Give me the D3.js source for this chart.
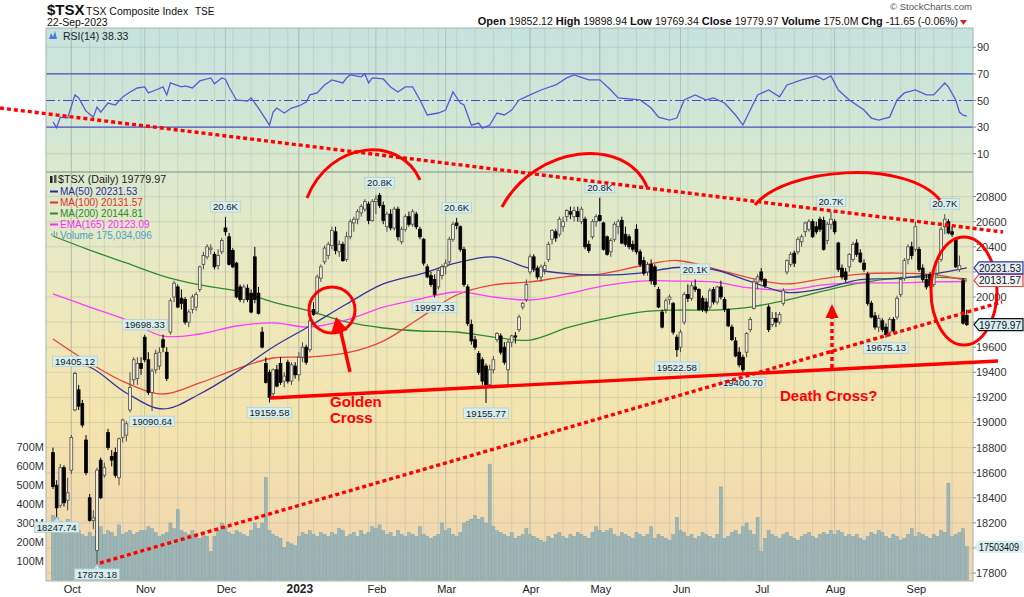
<!DOCTYPE html>
<html><head><meta charset="utf-8">
<script src="https://cdn.jsdelivr.net/npm/d3@7"></script>
<style>
body{margin:0;background:#fff}
svg{display:block}
text{font-family:Arial,"Liberation Sans",sans-serif}
</style></head>
<body><svg id="c" width="1024" height="597"></svg>
<script>
// ---------------- DATA ----------------
const holidays = ["2022-10-10","2022-12-26","2022-12-27","2023-01-02","2023-02-20","2023-04-07","2023-05-22","2023-07-03","2023-08-07","2023-09-04"];
// daily [open, high, low, close]
const sep22 = [[18760,18800,18470,18490],[18500,18540,18247.74,18320],[18340,18670,18320,18640],[18640,18660,18330,18360],[18380,18560,18300,18440]];
const oct22 = [[18620,18900,18590,18880],[19100,19405.12,19090,19390],[19260,19300,19100,19130],[19150,19180,18960,18980],[18860,18900,18580,18600],[18400,18430,18210,18220],[18220,18300,18150,18240],[17980,18640,17873.18,18620],[18700,18720,18390,18400],[18580,18680,18560,18640],[18920,18950,18780,18800],[18730,18780,18650,18700],[18760,18800,18560,18580],[18560,18880,18500,18870],[18880,19030,18840,19020],[18900,19010,18850,18990],[19100,19400,19080,19280],[19340,19520,19300,19500],[19350,19520,19300,19470],[19470,19520,19380,19430]];
const nov22 = [[19680,19698.33,19480,19500],[19500,19560,19220,19240],[19240,19430,19090.64,19410],[19420,19580,19390,19550],[19450,19600,19420,19560],[19660,19700,19560,19600],[19560,19600,19330,19350],[19720,19990,19700,19970],[20000,20130,19960,20110],[20080,20100,19910,19920],[19990,20060,19900,19950],[19980,20000,19780,19800],[19800,19900,19760,19880],[19900,20020,19870,20000],[19920,20040,19890,20020],[20060,20250,20040,20240],[20260,20360,20220,20330],[20320,20420,20300,20400],[20380,20420,20340,20390],[20340,20360,20220,20240],[20250,20380,20220,20330],[20360,20470,20340,20450]];
const dec22 = [[20550,20637,20490,20520],[20480,20510,20250,20260],[20370,20390,20230,20240],[20270,20280,19990,20000],[20080,20100,19960,19980],[19980,20100,19950,20080],[20070,20100,19960,19980],[20030,20060,19870,19880],[20320,20400,19950,19980],[20030,20080,19860,19870],[19720,19760,19590,19600],[19470,19520,19310,19320],[19400,19420,19159.58,19200],[19230,19430,19200,19420],[19420,19460,19280,19290],[19470,19520,19300,19320],[19330,19400,19280,19370],[19480,19500,19310,19330],[19330,19480,19300,19460],[19450,19480,19350,19380]];
const jan23 = [[19380,19560,19330,19520],[19520,19640,19480,19600],[19600,19620,19460,19480],[19580,19830,19560,19810],[19900,19960,19850,19860],[19880,20180,19860,20160],[20150,20260,20120,20240],[20280,20410,20260,20390],[20330,20440,20300,20420],[20410,20560,20380,20530],[20520,20560,20340,20370],[20360,20450,20320,20420],[20420,20440,20280,20290],[20300,20520,20280,20480],[20480,20620,20460,20600],[20590,20640,20520,20620],[20620,20700,20580,20680],[20670,20740,20640,20720],[20700,20780,20680,20760],[20740,20760,20580,20610],[20610,20780,20600,20760]];
const feb23 = [[20760,20810,20660,20780],[20810,20829,20710,20730],[20730,20760,20580,20610],[20560,20680,20520,20660],[20660,20700,20530,20550],[20550,20720,20530,20700],[20700,20720,20450,20480],[20440,20560,20420,20540],[20540,20660,20520,20640],[20640,20680,20560,20580],[20580,20700,20560,20680],[20660,20680,20540,20560],[20540,20560,20460,20480],[20460,20470,20250,20270],[20240,20260,20150,20160],[20170,20200,20080,20100],[20140,20180,19997.33,20020],[20080,20230,20060,20210],[20170,20260,20140,20240]];
const mar23 = [[20240,20300,20180,20270],[20280,20480,20250,20460],[20460,20600,20440,20580],[20590,20630,20540,20570],[20560,20570,20360,20380],[20380,20400,20080,20100],[20080,20100,19770,19790],[19780,19820,19620,19650],[19660,19690,19580,19600],[19550,19570,19380,19400],[19500,19520,19300,19330],[19450,19470,19155.77,19300],[19300,19460,19280,19420],[19420,19530,19390,19500],[19660,19720,19640,19710],[19690,19710,19540,19560],[19600,19640,19460,19480],[19420,19660,19300,19640],[19640,19700,19600,19690],[19690,19720,19630,19680],[19740,19860,19720,19840],[19920,19960,19900,19950],[19980,20140,19960,20100]];
const apr23 = [[20200,20340,20180,20320],[20320,20340,20200,20230],[20230,20250,20140,20160],[20160,20260,20120,20240],[20220,20280,20180,20250],[20300,20440,20280,20420],[20460,20540,20420,20530],[20520,20540,20440,20470],[20500,20640,20480,20620],[20560,20640,20520,20600],[20640,20700,20600,20690],[20680,20720,20620,20660],[20640,20720,20600,20690],[20680,20720,20600,20640],[20600,20720,20580,20700],[20620,20640,20380,20400],[20420,20450,20350,20370],[20480,20620,20460,20600],[20600,20660,20560,20640]];
const may23 = [[20650,20790,20600,20610],[20590,20600,20370,20380],[20480,20490,20330,20340],[20360,20470,20320,20450],[20460,20600,20440,20580],[20560,20620,20500,20600],[20610,20640,20420,20430],[20500,20560,20400,20420],[20480,20500,20380,20400],[20420,20450,20360,20380],[20540,20580,20340,20360],[20360,20380,20240,20260],[20290,20320,20170,20190],[20200,20280,20170,20260],[20260,20300,20100,20130],[20240,20260,20080,20100],[20060,20080,19910,19920],[19880,19900,19750,19760],[19900,19990,19870,19970],[19980,20020,19940,20000],[19950,19960,19700,19720],[19680,19700,19522.58,19580]];
const jun23 = [[19600,19740,19560,19720],[19800,20040,19780,20020],[20020,20100,19960,19990],[19990,20120,19970,20090],[20080,20140,20040,20060],[20060,20070,19890,19900],[19990,20010,19880,19900],[19960,19990,19870,19890],[19920,20070,19900,20050],[20060,20080,19940,19960],[19960,20090,19940,20080],[20080,20130,19980,20000],[19980,20000,19880,19900],[19900,19910,19760,19770],[19760,19780,19650,19660],[19650,19680,19520,19530],[19560,19600,19440,19460],[19520,19540,19400.70,19420],[19560,19720,19520,19710],[19740,19840,19720,19820],[19910,20140,19900,20120],[20120,20180,20060,20160]];
const jul23 = [[20200,20230,20120,20140],[20140,20150,20070,20090],[19920,19940,19720,19740],[19780,19880,19760,19830],[19830,19880,19760,19800],[19800,19880,19780,19860],[19950,20070,19930,20050],[20200,20300,20180,20290],[20260,20360,20240,20340],[20350,20370,20240,20270],[20360,20480,20340,20460],[20440,20500,20400,20480],[20520,20600,20480,20590],[20540,20620,20520,20600],[20600,20620,20470,20480],[20560,20600,20500,20520],[20620,20640,20520,20540],[20610,20640,20370,20380],[20450,20600,20420,20580],[20580,20680,20540,20620]];
const aug23 = [[20600,20620,20500,20520],[20430,20440,20200,20220],[20230,20260,20140,20160],[20200,20230,20120,20140],[20240,20350,20200,20340],[20300,20440,20280,20420],[20430,20460,20320,20340],[20350,20380,20270,20280],[20270,20300,20200,20220],[20180,20200,19930,19950],[19950,19970,19830,19840],[19850,19880,19740,19760],[19760,19860,19720,19830],[19810,19830,19720,19740],[19760,19790,19675.13,19700],[19720,19840,19700,19820],[19820,19840,19710,19730],[19840,20010,19820,19990],[20020,20160,20000,20140],[20150,20310,20130,20290],[20300,20420,20260,20400],[20400,20440,20300,20330]];
const sep23 = [[20380,20600,20360,20560],[20380,20400,20200,20220],[20230,20260,20120,20140],[20140,20180,20060,20080],[20180,20200,20070,20090],[20100,20210,20080,20190],[20190,20300,20170,20280],[20300,20560,20280,20540],[20560,20660,20500,20620],[20600,20620,20500,20510],[20520,20560,20480,20500],[20460,20470,20230,20240],[20220,20330,20200,20250],[20130,20150,19780,19791.62],[19852.12,19898.94,19769.34,19779.97]];
// daily volume, millions
const volumeM = [340,330,310,290,320,
250,290,260,240,230,250,230,330,280,240,260,250,230,290,240,250,260,240,250,260,
260,280,270,250,230,240,250,300,270,370,260,250,240,260,230,220,240,230,150,230,260,300,
280,250,240,260,250,240,230,260,300,270,300,540,260,240,230,220,170,200,190,180,
230,250,240,260,240,230,250,240,230,250,240,270,260,230,240,250,230,260,240,250,280,
270,290,260,240,250,230,260,240,230,250,240,230,280,240,230,220,230,240,300,
260,270,240,230,250,300,310,320,340,320,330,300,610,280,260,250,240,230,250,220,230,240,270,
240,230,220,210,200,230,220,240,250,230,220,240,230,250,240,230,220,250,280,
260,250,260,270,240,230,250,240,230,220,250,240,230,240,280,220,240,230,220,210,240,330,
260,250,230,240,220,230,250,240,230,220,240,490,220,230,250,260,240,280,300,260,240,330,
150,220,260,240,230,220,240,250,230,220,210,230,240,250,230,220,240,250,240,260,
240,260,250,230,240,230,240,220,210,230,250,240,260,250,230,220,240,230,210,220,240,270,
230,250,240,230,220,240,230,260,250,510,230,240,250,270,175.03];
// moving averages read at trading-day indices
const maDays = [0,10,20,30,40,50,60,70,80,90,100,110,120,130,140,150,160,170,180,190,200,210,220,230,240,249];
const ma50  = [19506,19442,19235,19108,19227,19402,19602,19769,19944,20104,20183,20271,20319,20227,20187,20175,20191,20235,20219,20124,20036,20068,20139,20147,20183,20231.53];
const ma100 = [19665,19474,19315,19227,19315,19426,19514,19522,19554,19649,19833,20016,20096,20120,20163,20187,20247,20291,20227,20151,20104,20147,20183,20191,20179,20131.57];
const ma200 = [20486,20374,20271,20167,20096,20048,19960,19888,19801,19753,19729,19721,19681,19657,19753,19825,19880,19896,19896,19920,19976,20048,20112,20151,20159,20144.81];
const ema165= [20024,19920,19817,19689,19705,19769,19793,19761,19817,19920,19984,20040,20000,19976,20024,20088,20127,20127,20120,20072,20056,20096,20112,20112,20120,20123.09];
// RSI(14)
const rsiDays = [0,1,2,4,6,7,9,11,12,13,15,17,19,21,23,25,26,28,30,31,32,35,36,38,40,43,44,46,47,48,50,53,54,56,59,60,61,63,65,67,69,70,72,74,76,79,80,81,84,85,86,87,90,92,94,96,98,100,102,105,107,109,111,112,114,116,117,119,121,123,125,127,130,133,137,140,142,146,149,152,154,160,163,165,168,170,172,175,178,180,183,186,188,190,192,195,198,200,204,208,210,212,214,217,221,223,225,228,230,232,235,238,240,243,244,246,247,248,249];
const rsiVals = [34,29.5,37.5,36.8,54.2,51.9,42,37.5,45.1,41.3,48.1,46.6,52.7,56.4,59.4,60.2,55.7,57.9,60.2,54.2,63.2,60.2,61,59.4,64.7,67,62.5,67,66,60,50.4,49.6,51.9,44.3,31.5,41.3,44.3,40.6,44.3,45.9,48.9,54.2,55.7,61.7,65.5,63.2,67,69.3,67.8,70,63.2,67,66.2,60.2,56.4,60.2,60.2,50.4,39.1,40.6,42.8,56.4,48.1,46.6,31.5,33,29.2,31.5,40.6,39.1,42.8,50.4,54.2,57.9,61.7,67,69.3,65.5,65.5,57.9,51.9,50.4,44.3,37.5,35.3,36.8,50.4,54.2,50.4,51.9,48.1,39.1,31.5,42.8,54.2,57.9,52.7,61.7,65.5,68.5,65.5,68.5,57.9,50.4,42.8,36.8,35.3,37.5,50.4,55.7,57.9,54.2,54.2,63.2,60.2,50.4,41.3,39,38.33];
// labelled swing highs / lows (trading-day indices)
const peakDays = [6,25,47,89,110,149,175,212,243];
const troughDays = [1,12,27,59,104,118,170,188,227];
// axis ticks
const priceTicks = [17800,18200,18400,18600,18800,19000,19200,19400,19600,20000,20400,20600,20800];
const priceGrid = [17800,18000,18200,18400,18600,18800,19000,19200,19400,19600,19800,20000,20200,20400,20600,20800];
const rsiTicks = [90,70,50,30,10];
const volTicks = [100,200,300,400,500,600,700];
const monthNames = ["Jan","Feb","Mar","Apr","May","Jun","Jul","Aug","Sep","Oct","Nov","Dec"];

// ---------------- BUILD ----------------
const ohlc = [].concat(sep22,oct22,nov22,dec22,jan23,feb23,mar23,apr23,may23,jun23,jul23,aug23,sep23);
const hs = new Set(holidays);
const dates = [];
for (let d = new Date(Date.UTC(2022,8,26)); d <= new Date(Date.UTC(2023,8,22)); d.setUTCDate(d.getUTCDate()+1)) {
  const wd = d.getUTCDay(), s = d.toISOString().slice(0,10);
  if (wd>0 && wd<6 && !hs.has(s)) dates.push(new Date(d));
}
const bars = ohlc.map((r,i)=>({i, date:dates[i], o:r[0], h:r[1], l:r[2], c:r[3], v:volumeM[i]}));

const svg = d3.select("#c");
const L=46, R=973, rsiTop=28, rsiBot=172, pTop=172, pBot=581;
const x = d3.scaleLinear().domain([-1.9, 250.7]).range([L, R]);
const yP = d3.scaleLinear().domain([17737, 20996]).range([pBot, pTop]);
const yR = d3.scaleLinear().domain([0, 100]).range([167, 34]);
const yV = d3.scaleLinear().domain([0, 700]).range([580, 447]);

const defs = svg.append("defs");
const g = defs.append("linearGradient").attr("id","bg").attr("x1",0).attr("y1",0).attr("x2",0).attr("y2",1);
[[0,"#c5e3de"],[0.14,"#cfe6d7"],[0.27,"#dce9cc"],[0.48,"#ece9bf"],[0.7,"#f4e4ae"],[1,"#f1d4b0"]].forEach(s=>g.append("stop").attr("offset",s[0]).attr("stop-color",s[1]));
defs.append("clipPath").attr("id","clipP").append("rect").attr("x",L).attr("y",pTop).attr("width",R-L).attr("height",pBot-pTop);
defs.append("clipPath").attr("id","clipR").append("rect").attr("x",L).attr("y",rsiTop).attr("width",R-L).attr("height",rsiBot-rsiTop);

svg.append("rect").attr("x",L).attr("y",rsiTop).attr("width",R-L).attr("height",pBot-rsiTop).attr("fill","url(#bg)");

// grid
const grid = svg.append("g");
const weekStarts = bars.filter((b,k)=>k>0 && (b.date.getUTCDay() < bars[k-1].date.getUTCDay()));
const monthStarts = bars.filter((b,k)=>k>0 && b.date.getUTCMonth()!==bars[k-1].date.getUTCMonth());
weekStarts.forEach(b=>{
  grid.append("line").attr("x1",x(b.i)).attr("x2",x(b.i)).attr("y1",rsiTop).attr("y2",pBot).attr("stroke","#9fb0a4").attr("stroke-opacity",0.3).attr("stroke-width",1);
});
monthStarts.forEach(b=>{
  grid.append("line").attr("x1",x(b.i)).attr("x2",x(b.i)).attr("y1",rsiTop).attr("y2",pBot).attr("stroke","#8c9c94").attr("stroke-opacity",0.45).attr("stroke-width",1);
});
priceGrid.forEach(v=>grid.append("line").attr("x1",L).attr("x2",R).attr("y1",yP(v)).attr("y2",yP(v)).attr("stroke","#9fb0a4").attr("stroke-opacity",0.35));
[10,90].forEach(v=>grid.append("line").attr("x1",L).attr("x2",R).attr("y1",yR(v)).attr("y2",yR(v)).attr("stroke","#9fb0a4").attr("stroke-opacity",0.35));

// RSI panel
const rp = svg.append("g").attr("clip-path","url(#clipR)");
[70,30].forEach(v=>rp.append("line").attr("x1",L).attr("x2",R).attr("y1",yR(v)).attr("y2",yR(v)).attr("stroke","#4a4ac4").attr("stroke-width",1.2));
rp.append("line").attr("x1",L).attr("x2",R).attr("y1",yR(50)).attr("y2",yR(50)).attr("stroke","#4a4ac4").attr("stroke-width",1.1).attr("stroke-dasharray","9,3,2,3");
rp.append("path").datum(rsiDays.map((d,k)=>[d,rsiVals[k]]))
  .attr("d",d3.line().x(d=>x(d[0])).y(d=>yR(d[1])))
  .attr("fill","none").attr("stroke","#5858d8").attr("stroke-width",1.3);

// Volume
const pp = svg.append("g").attr("clip-path","url(#clipP)");
const step = x(1)-x(0);
pp.append("g").selectAll("rect").data(bars).join("rect")
  .attr("x",d=>x(d.i)-step/2+0.3).attr("width",step-0.6)
  .attr("y",d=>yV(d.v)).attr("height",d=>yV(0)-yV(d.v))
  .attr("fill","#8db0b8").attr("fill-opacity",0.85).attr("stroke","#7898a2").attr("stroke-width",0.4);

// moving averages
const maLine = d3.line().x(d=>x(d[0])).y(d=>yP(d[1])).curve(d3.curveCatmullRom.alpha(0.5));
[[ma200,"#2f8a2f"],[ma100,"#e8453c"],[ema165,"#ff3cff"],[ma50,"#3434a0"]].forEach(([arr,col])=>{
  pp.append("path").datum(maDays.map((d,k)=>[d,arr[k]])).attr("d",maLine).attr("fill","none").attr("stroke",col).attr("stroke-width",1.3);
});

// candles
const bw = 2.8;
const cg = pp.append("g");
bars.forEach(b=>{
  const up = b.c >= b.o;
  const col = up ? "#4a4a4a" : "#000";
  cg.append("line").attr("x1",x(b.i)).attr("x2",x(b.i)).attr("y1",yP(b.h)).attr("y2",yP(b.l)).attr("stroke",col).attr("stroke-width",1);
  const top = yP(Math.max(b.o,b.c)), hgt = Math.max(1, Math.abs(yP(b.o)-yP(b.c)));
  cg.append("rect").attr("x",x(b.i)-bw/2).attr("y",top).attr("width",bw).attr("height",hgt)
    .attr("fill", up ? "#f1ecd8" : "#000").attr("stroke",col).attr("stroke-width",0.8);
});

// panel borders
svg.append("rect").attr("x",L).attr("y",rsiTop).attr("width",R-L).attr("height",pBot-rsiTop).attr("fill","none").attr("stroke","#a7b4b0").attr("stroke-width",1);
svg.append("line").attr("x1",L).attr("x2",R).attr("y1",rsiBot).attr("y2",rsiBot).attr("stroke","#9eaaa8").attr("stroke-width",1.6);

// ---------------- AXES ----------------
const ax = svg.append("g");
rsiTicks.forEach(v=>{
  ax.append("line").attr("x1",R).attr("x2",R+3).attr("y1",yR(v)).attr("y2",yR(v)).attr("stroke","#888");
  ax.append("text").attr("x",977).attr("y",yR(v)+4).attr("font-size",11).attr("fill","#333").text(v);
});
priceGrid.forEach(v=>ax.append("line").attr("x1",R).attr("x2",R+3).attr("y1",yP(v)).attr("y2",yP(v)).attr("stroke","#888"));
priceTicks.forEach(v=>ax.append("text").attr("x",976).attr("y",yP(v)+4).attr("font-size",11).attr("fill","#333").text(v));
volTicks.forEach(v=>ax.append("text").attr("x",44).attr("y",yV(v)+4).attr("text-anchor","end").attr("font-size",11).attr("fill","#333").text(v+"M"));
monthStarts.forEach(b=>{
  const m = b.date.getUTCMonth();
  const isYear = m===0;
  ax.append("text").attr("x",x(b.i)+1).attr("y",593).attr("text-anchor","middle")
    .attr("font-size",isYear?12:11).attr("font-weight",isYear?"bold":"normal").attr("fill","#222")
    .text(isYear ? b.date.getUTCFullYear() : monthNames[m]);
});

// swing labels
const fmt = v => v>=20000 ? (v/1000).toFixed(1)+"K" : v.toFixed(2);
function swingLabel(i, v, above){
  const cx = x(i), t = fmt(v);
  const w = t.length*5.1 + 4, h = 10.5;
  const yy = above ? yP(v) - 5 - h : yP(v) + 5;
  const gg = svg.append("g");
  gg.append("path").attr("d", above
      ? `M${cx-3.5},${yy+h-0.5} L${cx},${yP(v)-1} L${cx+3.5},${yy+h-0.5} Z`
      : `M${cx-3.5},${yy+0.5} L${cx},${yP(v)+1} L${cx+3.5},${yy+0.5} Z`).attr("fill","#cfeaec");
  gg.append("rect").attr("x",cx-w/2).attr("y",yy).attr("width",w).attr("height",h).attr("fill","#d6eef0").attr("stroke","#a9cdd2").attr("stroke-width",0.7);
  gg.append("text").attr("x",cx).attr("y",yy+8.6).attr("text-anchor","middle").attr("font-size",9.6).attr("fill","#1a1a1a").text(t);
}
peakDays.forEach(i=>swingLabel(i, bars[i].h, true));
troughDays.forEach(i=>swingLabel(i, bars[i].l, false));

// ---------------- RED ANNOTATIONS ----------------
const red = "#ff0000";
const an = svg.append("g");
an.append("line").attr("x1",0).attr("y1",108).attr("x2",1003).attr("y2",232).attr("stroke",red).attr("stroke-width",3.4).attr("stroke-dasharray","4,3");
an.append("line").attr("x1",100).attr("y1",563).attr("x2",1002).attr("y2",302).attr("stroke",red).attr("stroke-width",3.4).attr("stroke-dasharray","4,3");
an.append("line").attr("x1",270).attr("y1",398).attr("x2",998).attr("y2",361).attr("stroke",red).attr("stroke-width",3.4);
["M307,198 C330,140 400,135 420,180","M502,207 C535,145 625,135 647,187","M755,205 C785,168 905,158 940,200"].forEach(p=>
  an.append("path").attr("d",p).attr("fill","none").attr("stroke",red).attr("stroke-width",3));
an.append("ellipse").attr("cx",964).attr("cy",291).attr("rx",33).attr("ry",54).attr("fill","none").attr("stroke",red).attr("stroke-width",3);
an.append("circle").attr("cx",332).attr("cy",310).attr("r",23).attr("fill","none").attr("stroke",red).attr("stroke-width",3);
an.append("line").attr("x1",350).attr("y1",372).attr("x2",340).attr("y2",328).attr("stroke",red).attr("stroke-width",3.4);
an.append("path").attr("d","M336,317 L331,334 L348,330 Z").attr("fill",red);
an.append("line").attr("x1",832).attr("y1",368).attr("x2",832).attr("y2",318).attr("stroke",red).attr("stroke-width",3.4).attr("stroke-dasharray","4,3");
an.append("path").attr("d","M832,304 L825.5,318 L838.5,318 Z").attr("fill",red);
an.append("text").attr("x",330).attr("y",407).attr("font-size",15).attr("font-weight","bold").attr("fill",red).text("Golden");
an.append("text").attr("x",330).attr("y",423).attr("font-size",15).attr("font-weight","bold").attr("fill",red).text("Cross");
an.append("text").attr("x",780).attr("y",401).attr("font-size",15).attr("font-weight","bold").attr("fill",red).text("Death Cross?");

// right-side value tags
function tag(yc, txt, stroke, fill, len){
  const gg = svg.append("g");
  gg.append("path").attr("d",`M${R+1},${yc} L${R+6},${yc-6} L1023,${yc-6} L1023,${yc+6} L${R+6},${yc+6} Z`)
    .attr("fill",fill).attr("stroke",stroke).attr("stroke-width",stroke==="none"?0:1.2);
  gg.append("text").attr("x",R+6).attr("y",yc+4).attr("font-size",10.2).attr("fill","#111")
    .attr("textLength",len).attr("lengthAdjust","spacingAndGlyphs").text(txt);
}
const last = bars[bars.length-1];
tag(yP(ma100[ma100.length-1]), ma100[ma100.length-1].toFixed(2), "#e8453c", "#eef4f4", 42);
tag(yP(ma50[ma50.length-1]), ma50[ma50.length-1].toFixed(2), "#3434a0", "#e4ecf6", 42);
tag(yP(last.c), last.c.toFixed(2), "#111", "#d6eef0", 42);
tag(yV(last.v), "17503409", "none", "#d6eef0", 40);

// ---------------- HEADER & LEGENDS ----------------
svg.append("text").attr("x",47).attr("y",15).attr("font-size",15).attr("font-weight","bold").attr("fill","#111").text("$TSX");
svg.append("text").attr("x",86).attr("y",15).attr("font-size",10.5).attr("fill","#111").text("TSX Composite Index");
svg.append("text").attr("x",195).attr("y",15).attr("font-size",10).attr("fill","#111").text("TSE");
svg.append("text").attr("x",47).attr("y",26).attr("font-size",10.5).attr("fill","#111").text("22-Sep-2023");
svg.append("text").attr("x",972).attr("y",10).attr("text-anchor","end").attr("font-size",9.5).attr("fill","#555").text("© StockCharts.com");
const hdr = svg.append("text").attr("x",958).attr("y",25).attr("text-anchor","end").attr("font-size",10.5).attr("fill","#111");
[["Open ",true],["19852.12 ",false],["High ",true],["19898.94 ",false],["Low ",true],["19769.34 ",false],["Close ",true],["19779.97 ",false],["Volume ",true],["175.0M ",false],["Chg ",true],["-11.65 (-0.06%)",false]]
  .forEach(([t,b])=>hdr.append("tspan").attr("font-weight",b?"bold":"normal").attr("font-size",b?11:10.5).text(t));
svg.append("path").attr("d","M960,20 L967,20 L963.5,25 Z").attr("fill","#e02020");

// RSI legend
svg.append("path").attr("d","M49,39 L51,33 L53,37 L55,31 L57,39 Z").attr("fill","#4a7ae0");
svg.append("text").attr("x",63).attr("y",40).attr("font-family","'DejaVu Sans Mono',monospace").attr("font-size",10.5).attr("fill","#222").text("RSI(14) 38.33");

// price legend
svg.append("rect").attr("x",50).attr("y",176).attr("width",2.5).attr("height",7).attr("fill","#222");
svg.append("rect").attr("x",54).attr("y",175).attr("width",2.5).attr("height",8).attr("fill","#555");
svg.append("text").attr("x",58).attr("y",183).attr("font-family","'DejaVu Sans Mono',monospace").attr("font-size",10.7).attr("fill","#222").text("$TSX (Daily) 19779.97");
const leg = [["MA(50) 20231.53","#2a2aa0"],["MA(100) 20131.57","#e0302a"],["MA(200) 20144.81","#2f8a2f"],["EMA(165) 20123.09","#ff2cff"]];
leg.forEach(([t,c],k)=>{
  const yy = 195 + k*11;
  svg.append("line").attr("x1",50).attr("x2",58).attr("y1",yy-3.5).attr("y2",yy-3.5).attr("stroke",c).attr("stroke-width",2);
  svg.append("text").attr("x",60).attr("y",yy).attr("font-size",10).attr("fill",c).text(t);
});
svg.append("g").selectAll("rect").data([3,5,4]).join("rect").attr("x",(d,k)=>51+k*2.5).attr("y",d=>239-d-3).attr("width",1.5).attr("height",d=>d).attr("fill","#8fb3bb");
svg.append("text").attr("x",60).attr("y",239).attr("font-size",10).attr("fill","#4aa0c8").text("Volume 175,034,096");
</script></body></html>
